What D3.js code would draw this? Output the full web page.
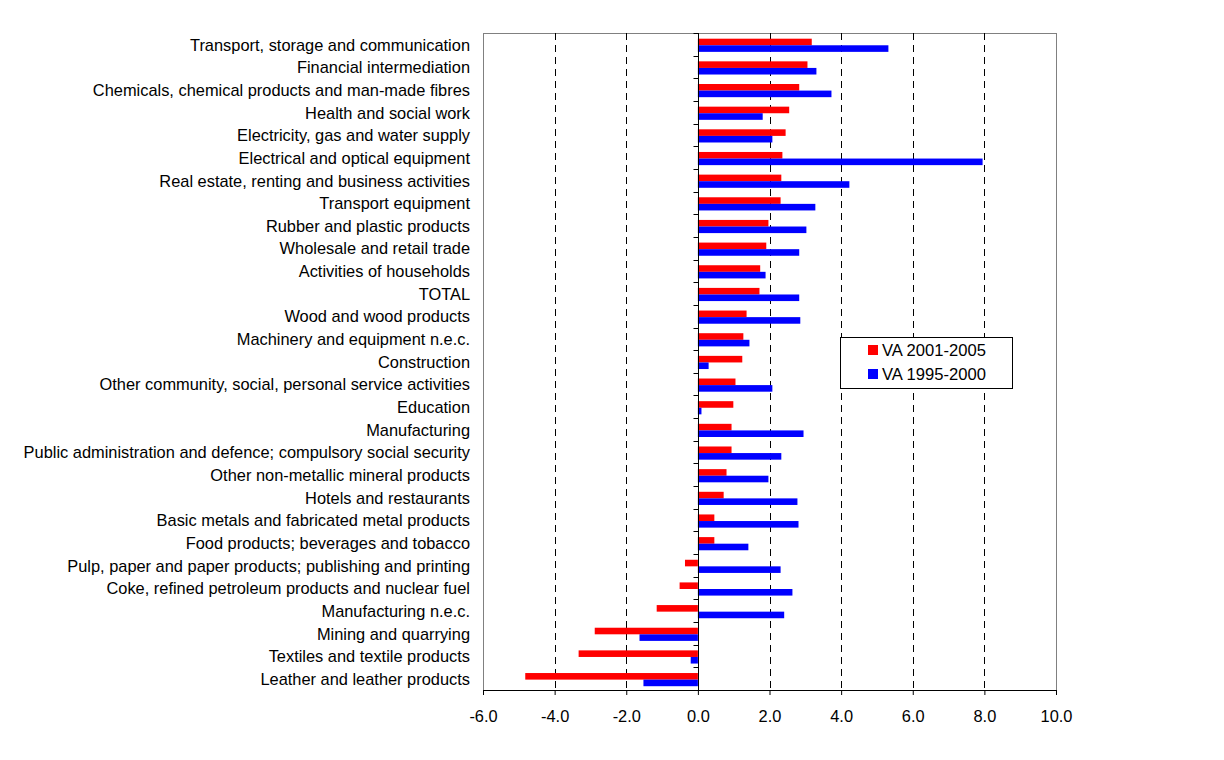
<!DOCTYPE html>
<html>
<head>
<meta charset="utf-8">
<script src="https://cdn.jsdelivr.net/npm/d3@7"></script>
<style>
  html, body { margin: 0; padding: 0; background: #fff; }
  svg { display: block; font-family: "Liberation Sans", Arial, sans-serif; }
</style>
</head>
<body>
<svg id="chart" width="1224" height="760"></svg>
<script>
const categories = [
  "Transport, storage and communication",
  "Financial intermediation",
  "Chemicals, chemical products and man-made fibres",
  "Health and social work",
  "Electricity, gas and water supply",
  "Electrical and optical equipment",
  "Real estate, renting and business activities",
  "Transport equipment",
  "Rubber and plastic products",
  "Wholesale and retail trade",
  "Activities of households",
  "TOTAL",
  "Wood and wood products",
  "Machinery and equipment n.e.c.",
  "Construction",
  "Other community, social, personal service activities",
  "Education",
  "Manufacturing",
  "Public administration and defence; compulsory social security",
  "Other non-metallic mineral products",
  "Hotels and restaurants",
  "Basic metals and fabricated metal products",
  "Food products; beverages and tobacco",
  "Pulp, paper and paper products; publishing and printing",
  "Coke, refined petroleum products and nuclear fuel",
  "Manufacturing n.e.c.",
  "Mining and quarrying",
  "Textiles and textile products",
  "Leather and leather products"
];
const va20012005 = [3.18, 3.06, 2.83, 2.55, 2.45, 2.36, 2.33, 2.31, 1.97, 1.91,
  1.74, 1.72, 1.36, 1.27, 1.24, 1.05, 0.99, 0.94, 0.94, 0.80,
  0.72, 0.46, 0.46, -0.36, -0.51, -1.15, -2.88, -3.33, -4.82];
const va19952000 = [5.32, 3.31, 3.73, 1.81, 2.08, 7.95, 4.23, 3.28, 3.03, 2.83,
  1.89, 2.83, 2.86, 1.44, 0.30, 2.08, 0.10, 2.95, 2.33, 1.97,
  2.78, 2.81, 1.41, 2.31, 2.64, 2.41, -1.63, -0.20, -1.52];
const seriesNames = ["VA 2001-2005", "VA 1995-2000"];
const seriesColors = ["#ff0000", "#0000ff"];
const xTicks = [-6, -4, -2, 0, 2, 4, 6, 8, 10];

const svg = d3.select("#chart");
const L = 483, R = 1056, T = 33, B = 690;
const FONT = "Liberation Sans, Arial, sans-serif";

const x = d3.scaleLinear().domain([-6, 10]).range([L, R]);
const y0 = d3.scaleBand().domain(categories).range([T, B]);
const y1 = d3.scaleBand().domain(seriesNames).range([0, y0.bandwidth()]).paddingOuter(0.72).align(0.6);

// plot border
svg.append("rect").attr("x", L + 0.5).attr("y", T + 0.5).attr("width", R - L).attr("height", B - T)
  .attr("fill", "none").attr("stroke", "#808080").attr("stroke-width", 1);

// gridlines
svg.append("g").selectAll("line").data(xTicks.filter(t => t !== 0 && t !== -6 && t !== 10)).join("line")
  .attr("x1", d => Math.round(x(d)) + 0.5).attr("x2", d => Math.round(x(d)) + 0.5)
  .attr("y1", T).attr("y2", B)
  .attr("stroke", "#000").attr("stroke-width", 1).attr("stroke-dasharray", "7,5");

// bars
const data = [va20012005, va19952000];
data.forEach((vals, si) => {
  svg.append("g").selectAll("rect").data(vals).join("rect")
    .attr("x", d => x(Math.min(0, d)))
    .attr("width", d => Math.abs(x(d) - x(0)))
    .attr("y", (d, i) => y0(categories[i]) + y1(seriesNames[si]))
    .attr("height", y1.bandwidth())
    .attr("fill", seriesColors[si]);
});

// zero axis line with category boundary ticks
const zx = Math.round(x(0)) + 0.5;
svg.append("line").attr("x1", zx).attr("x2", zx).attr("y1", T).attr("y2", B)
  .attr("stroke", "#000").attr("stroke-width", 1);
svg.append("g").selectAll("line").data(d3.range(categories.length + 1)).join("line")
  .attr("x1", zx - 5).attr("x2", zx)
  .attr("y1", i => Math.round(T + i * y0.step()) + 0.5)
  .attr("y2", i => Math.round(T + i * y0.step()) + 0.5)
  .attr("stroke", "#000");

// category labels
const yAxis = svg.append("g").attr("transform", `translate(${L},1)`)
  .call(d3.axisLeft(y0).tickSize(0).tickPadding(13));
yAxis.select(".domain").remove();
yAxis.selectAll("text").attr("font-size", 16.4).attr("fill", "#000").attr("font-family", FONT);

// x axis
const xAxis = svg.append("g").attr("transform", `translate(0,${B})`)
  .call(d3.axisBottom(x).tickValues(xTicks).tickFormat(d => d.toFixed(1)).tickSize(5).tickPadding(15));
xAxis.select(".domain").attr("stroke", "#000").attr("d", `M${L},0.5H${R}`);
xAxis.selectAll(".tick line").attr("stroke", "#000");
xAxis.selectAll("text").attr("font-size", 16.4).attr("fill", "#000").attr("font-family", FONT);

// legend
const lg = svg.append("g").attr("transform", "translate(840,337)");
lg.append("rect").attr("x", 0.5).attr("y", 0.5).attr("width", 172).attr("height", 51)
  .attr("fill", "#fff").attr("stroke", "#000").attr("stroke-width", 1);
seriesNames.forEach((n, i) => {
  lg.append("rect").attr("x", 28).attr("y", 8 + i * 24).attr("width", 10).attr("height", 10)
    .attr("fill", seriesColors[i]);
  lg.append("text").attr("x", 42).attr("y", 13 + i * 24).attr("dy", "0.35em")
    .attr("font-size", 16.6).attr("fill", "#000").attr("font-family", FONT).text(n);
});
</script>
</body>
</html>
